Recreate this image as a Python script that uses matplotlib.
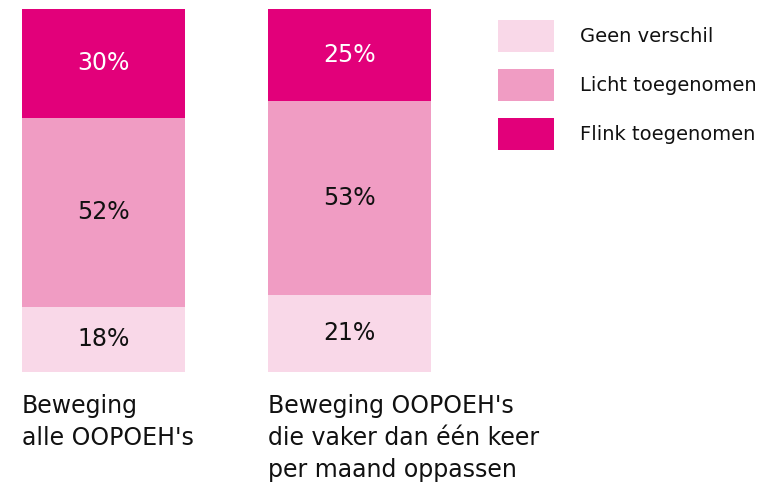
import numpy as np
import matplotlib.pyplot as plt

plt.rcParams['font.family'] = ['DejaVu Sans']

groups = ["Beweging\nalle OOPOEH's",
          "Beweging OOPOEH's\ndie vaker dan één keer\nper maand oppassen"]
series = ["Geen verschil", "Licht toegenomen", "Flink toegenomen"]
geen = [18, 21]
licht = [52, 53]
flink = [30, 25]
colors = ['#F9D8E8', '#F09CC3', '#E2007A']
text_colors = ['#111111', '#111111', 'white']

W, H = 763, 493
fig = plt.figure(figsize=(W / 100, H / 100), dpi=100)
# axes spans the bars area in pixels
ax = fig.add_axes([22 / W, 1 - 372 / H, (431 - 22) / W, (372 - 9) / H])

x = np.arange(len(groups))
width = 163 / 246
totals = np.array(geen) + np.array(licht) + np.array(flink)
bottom = np.zeros(len(groups))
for name, vals, c, tc in zip(series, [geen, licht, flink], colors, text_colors):
    share = np.array(vals) / totals * 100  # 100% stacked
    bars = ax.bar(x, share, width, bottom=bottom, color=c, label=name, linewidth=0)
    ax.bar_label(bars, labels=[f"{v}%" for v in vals], label_type='center',
                 color=tc, fontsize=17)
    bottom += share

ax.set_xlim(-width / 2, 1 + width / 2)
ax.set_ylim(0, 100)
ax.set_yticks([])
ax.set_xticks(x - width / 2)
ax.set_xticklabels(groups, ha='left', va='top', fontsize=17, color='#111111',
                   linespacing=1.42)
ax.tick_params(axis='x', length=0, pad=16)
for s in ax.spines.values():
    s.set_visible(False)

fs = 14
fpx = fs * 100 / 72
sw_h = 32
fig.legend(loc='upper left', bbox_to_anchor=(498 / W, 1 - 20 / H),
           frameon=False, fontsize=fs, borderpad=0, borderaxespad=0,
           handlelength=56 / fpx, handleheight=(sw_h / fpx - 0.245) / 0.65,
           handletextpad=26 / fpx, labelspacing=17 / fpx,
           labelcolor='#111111')

fig.savefig('out.png', dpi=100)
